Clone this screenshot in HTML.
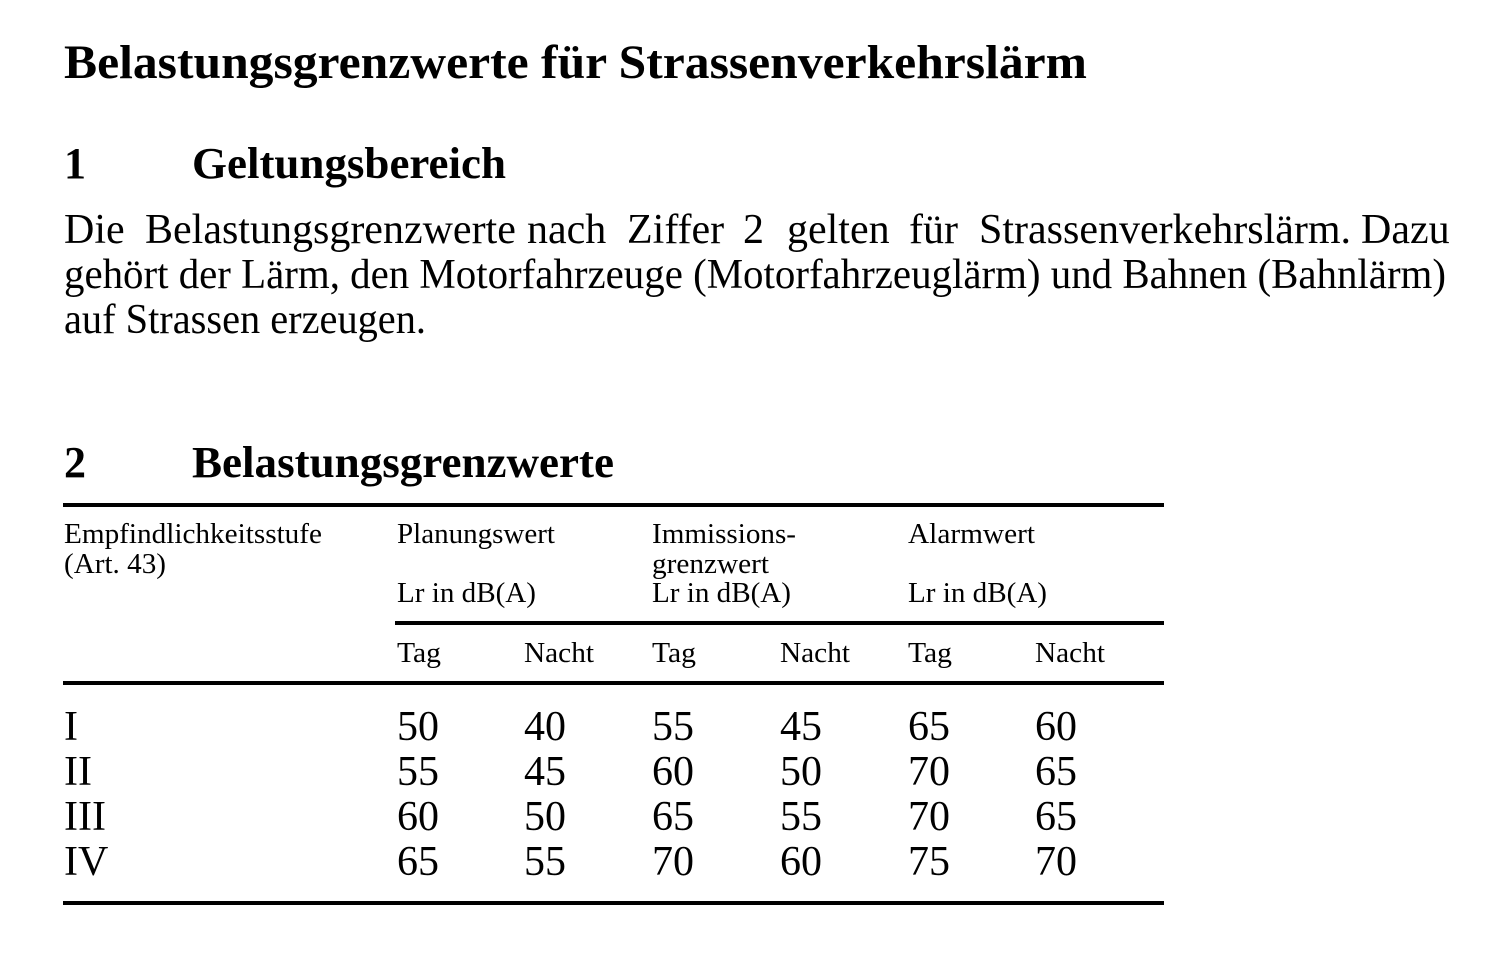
<!DOCTYPE html>
<html><head><meta charset="utf-8"><style>
html,body{margin:0;padding:0;background:#fff;}
svg{display:block}
text{font-family:"Liberation Serif",serif;fill:#000}
.b{font-weight:bold}
</style></head><body>
<svg width="1509" height="974" viewBox="0 0 1509 974">
<text class="b" x="64" y="78" font-size="48" textLength="1023" lengthAdjust="spacingAndGlyphs">Belastungsgrenzwerte für Strassenverkehrslärm</text>
<text class="b" x="64" y="178" font-size="44">1</text>
<text class="b" x="192" y="178" font-size="44" textLength="314" lengthAdjust="spacingAndGlyphs">Geltungsbereich</text>
<g font-size="42">
<text y="243"><tspan x="64">Die</tspan><tspan x="145">Belastungsgrenzwerte</tspan><tspan x="527">nach</tspan><tspan x="627">Ziffer</tspan><tspan x="743">2</tspan><tspan x="787">gelten</tspan><tspan x="909">für</tspan><tspan x="979">Strassenverkehrslärm.</tspan><tspan x="1361">Dazu</tspan></text>
<text x="64" y="288" textLength="1382" lengthAdjust="spacingAndGlyphs">gehört der Lärm, den Motorfahrzeuge (Motorfahrzeuglärm) und Bahnen (Bahnlärm)</text>
<text x="64" y="333" textLength="362" lengthAdjust="spacingAndGlyphs">auf Strassen erzeugen.</text>
</g>
<text class="b" x="64" y="477" font-size="44">2</text>
<text class="b" x="192" y="477" font-size="44" textLength="422" lengthAdjust="spacingAndGlyphs">Belastungsgrenzwerte</text>
<rect x="63" y="503" width="1101" height="4" fill="#000"/>
<rect x="395" y="621" width="769" height="4" fill="#000"/>
<rect x="63" y="681" width="1101" height="4" fill="#000"/>
<rect x="63" y="901" width="1101" height="4" fill="#000"/>
<g font-size="28">
<text x="64" y="543" textLength="258" lengthAdjust="spacingAndGlyphs">Empfindlichkeitsstufe</text>
<text x="64" y="573" textLength="102" lengthAdjust="spacingAndGlyphs">(Art. 43)</text>
<text x="397" y="543" textLength="158" lengthAdjust="spacingAndGlyphs">Planungswert</text>
<text x="397" y="602" textLength="139" lengthAdjust="spacingAndGlyphs">Lr in dB(A)</text>
<text x="652" y="543" textLength="144" lengthAdjust="spacingAndGlyphs">Immissions-</text>
<text x="652" y="573" textLength="117" lengthAdjust="spacingAndGlyphs">grenzwert</text>
<text x="652" y="602" textLength="139" lengthAdjust="spacingAndGlyphs">Lr in dB(A)</text>
<text x="908" y="543" textLength="127" lengthAdjust="spacingAndGlyphs">Alarmwert</text>
<text x="908" y="602" textLength="139" lengthAdjust="spacingAndGlyphs">Lr in dB(A)</text>
<text x="397" y="662" textLength="44" lengthAdjust="spacingAndGlyphs">Tag</text><text x="524" y="662" textLength="70" lengthAdjust="spacingAndGlyphs">Nacht</text>
<text x="652" y="662" textLength="44" lengthAdjust="spacingAndGlyphs">Tag</text><text x="780" y="662" textLength="70" lengthAdjust="spacingAndGlyphs">Nacht</text>
<text x="908" y="662" textLength="44" lengthAdjust="spacingAndGlyphs">Tag</text><text x="1035" y="662" textLength="70" lengthAdjust="spacingAndGlyphs">Nacht</text>
</g>
<g font-size="42">
<text x="64" y="740">I</text><text x="397" y="740">50</text><text x="524" y="740">40</text><text x="652" y="740">55</text><text x="780" y="740">45</text><text x="908" y="740">65</text><text x="1035" y="740">60</text>
<text x="64" y="785">II</text><text x="397" y="785">55</text><text x="524" y="785">45</text><text x="652" y="785">60</text><text x="780" y="785">50</text><text x="908" y="785">70</text><text x="1035" y="785">65</text>
<text x="64" y="830">III</text><text x="397" y="830">60</text><text x="524" y="830">50</text><text x="652" y="830">65</text><text x="780" y="830">55</text><text x="908" y="830">70</text><text x="1035" y="830">65</text>
<text x="64" y="875">IV</text><text x="397" y="875">65</text><text x="524" y="875">55</text><text x="652" y="875">70</text><text x="780" y="875">60</text><text x="908" y="875">75</text><text x="1035" y="875">70</text>
</g>
</svg>
</body></html>
